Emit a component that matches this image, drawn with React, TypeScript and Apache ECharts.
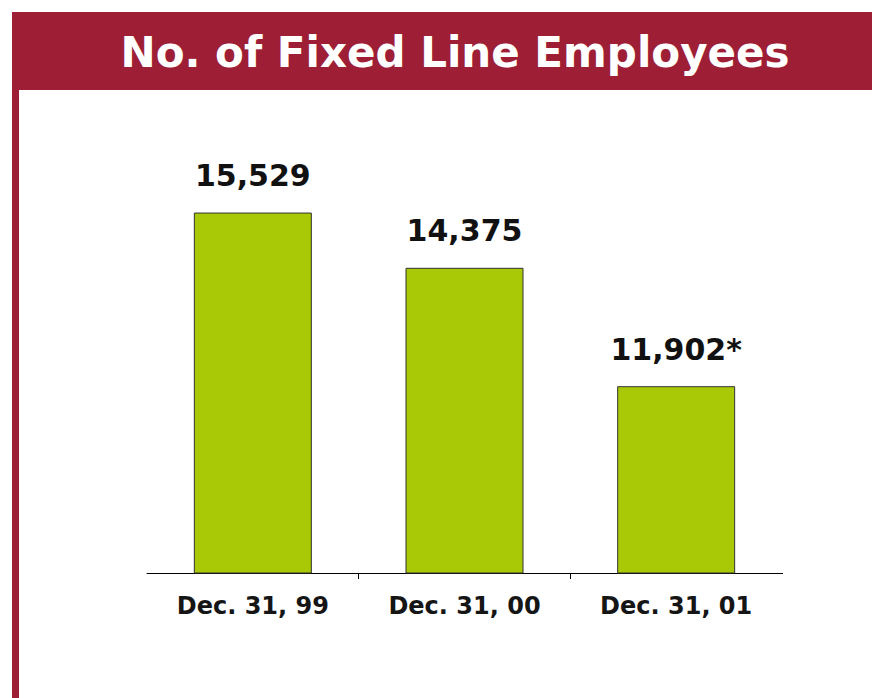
import React, { useEffect, useRef } from "react";
import * as echarts from "echarts";

const titleText = "No. of Fixed Line Employees";
const categories = ["Dec. 31, 99", "Dec. 31, 00", "Dec. 31, 01"];
const employees = [15529, 14375, 11902];
const valueNotes = ["", "", "*"];
const axisMin = 8000;
const axisMax = 16000;

const RED = "#9D1E35";
const GREEN = "#A9C906";
const FONT = "'DejaVu Sans', Verdana, sans-serif";

export default function App() {
  const ref = useRef<HTMLDivElement>(null);

  useEffect(() => {
    if (!ref.current) return;
    const chart = echarts.init(ref.current, null, { renderer: "svg" });
    chart.setOption({
      animation: false,
      backgroundColor: "#ffffff",
      grid: { left: 147, right: 90, top: 190, bottom: 125 },
      xAxis: {
        type: "category",
        data: categories,
        axisLine: { show: true, lineStyle: { color: "#000000", width: 1 } },
        axisTick: { show: true, length: 6, lineStyle: { color: "#000000", width: 1 } },
        axisLabel: {
          margin: 21,
          fontFamily: FONT,
          fontSize: 24,
          lineHeight: 24,
          fontWeight: "bold",
          color: "#151515",
        },
      },
      yAxis: {
        type: "value",
        min: axisMin,
        max: axisMax,
        show: false,
        splitLine: { show: false },
      },
      series: [
        {
          type: "bar",
          data: employees,
          barWidth: 118,
          itemStyle: { color: GREEN, borderColor: "#333333", borderWidth: 1 },
          label: {
            show: true,
            position: "top",
            distance: 22,
            fontFamily: FONT,
            fontSize: 30,
            lineHeight: 30,
            fontWeight: "bold",
            color: "#111111",
            formatter: (p: any) =>
              Number(p.value).toLocaleString("en-US") + valueNotes[p.dataIndex],
          },
        },
      ],
      graphic: [
        {
          type: "rect",
          z: 100,
          shape: { x: 12, y: 12, width: 860, height: 78 },
          style: { fill: RED },
        },
        {
          type: "rect",
          z: 100,
          shape: { x: 12, y: 90, width: 7, height: 608 },
          style: { fill: RED },
        },
        {
          type: "text",
          z: 101,
          x: 455,
          y: 52,
          style: {
            text: titleText,
            fill: "#ffffff",
            font: `bold 42px ${FONT}`,
            textAlign: "center",
            textVerticalAlign: "middle",
          },
        },
        {
          type: "rect",
          z: 100,
          shape: { x: 144, y: 574, width: 6, height: 8 },
          style: { fill: "#ffffff" },
        },
        {
          type: "rect",
          z: 100,
          shape: { x: 779, y: 574, width: 6, height: 8 },
          style: { fill: "#ffffff" },
        },
      ],
    });
    return () => chart.dispose();
  }, []);

  return (
    <div
      ref={ref}
      style={{ position: "absolute", left: 0, top: 0, width: 872, height: 698, background: "#fff" }}
    />
  );
}
